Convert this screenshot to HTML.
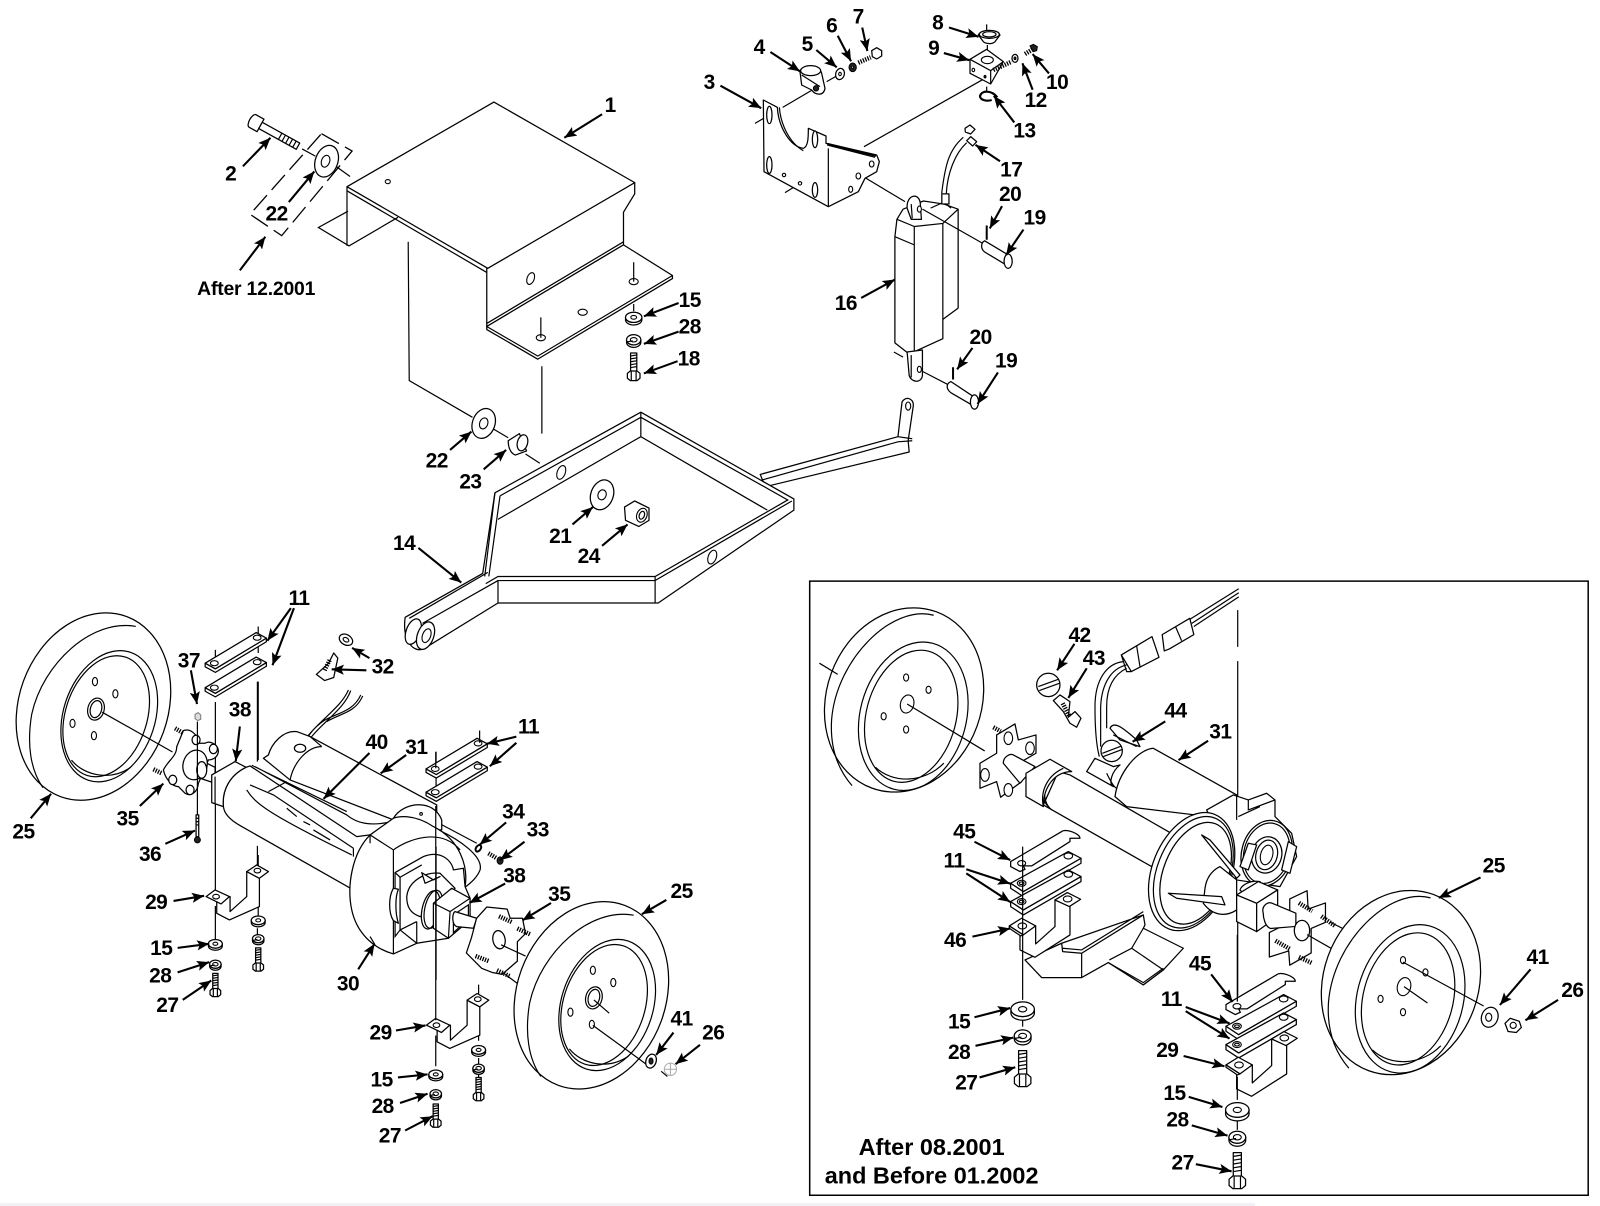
<!DOCTYPE html>
<html><head><meta charset="utf-8"><title>Diagram</title>
<style>
html,body{margin:0;padding:0;background:#fff}
svg{display:block}
svg *{vector-effect:non-scaling-stroke}
.p{fill:#fff;stroke:#000;stroke-width:1.25;stroke-linejoin:round}
.n{fill:none;stroke:#000;stroke-width:1.2}
.a line{stroke:#000;stroke-width:2.1}
.t text{font:bold 20.5px "Liberation Sans",sans-serif;text-anchor:middle;fill:#000;letter-spacing:-.5px}
.h{fill:#fff;stroke:#000;stroke-width:1.1}
.d{fill:#222;stroke:#000;stroke-width:1}
.s{fill:none;stroke:#000;stroke-width:4.5;stroke-dasharray:1.3 1.2}
</style></head><body>
<svg xmlns="http://www.w3.org/2000/svg" width="1600" height="1206" viewBox="0 0 1568 1182">
<defs>
<marker id="m" viewBox="0 0 12 10" refX="12" refY="5" orient="auto" markerUnits="userSpaceOnUse" markerWidth="13" markerHeight="10"><path d="M0 0L12 5L0 10L2.5 5z"/></marker>
<g id="wheel">
<ellipse class="p" cx="91.5" cy="692.5" rx="73" ry="94" transform="rotate(20 91.5 692.5)"/>
<path class="n" d="M133 614C90 606 42 650 31 700C26 730 30 755 42 772"/>
<ellipse class="n" cx="107" cy="702" rx="45" ry="66" transform="rotate(18 107 702)"/>
<ellipse class="n" cx="104" cy="702" rx="40" ry="61" transform="rotate(18 104 702)"/>
<path class="n" d="M70 745C82 760 108 766 128 752"/>
<ellipse class="n" cx="94" cy="695" rx="8" ry="11" transform="rotate(15 94 695)"/><ellipse class="n" cx="94" cy="695" rx="5.500" ry="8.500" transform="rotate(15 94 695)"/>
<ellipse class="h" cx="93" cy="668" rx="2.500" ry="4"/><ellipse class="h" cx="113" cy="680" rx="2.500" ry="4"/><ellipse class="h" cx="71" cy="709" rx="2.500" ry="4"/><ellipse class="h" cx="92" cy="721" rx="2.500" ry="4"/>
</g>
<g id="iw">
<ellipse class="p" cx="886" cy="686" rx="76" ry="92" transform="rotate(20 886 686)"/>
<path class="n" d="M915 603C875 592 820 645 815 705C813 735 822 755 835 770"/>
<ellipse class="n" cx="895" cy="702" rx="52" ry="74" transform="rotate(15 895 702)"/>
<ellipse class="n" cx="893" cy="702" rx="44" ry="66" transform="rotate(15 893 702)"/>
<path class="n" d="M858 752C875 768 905 768 925 748"/>
<ellipse class="h" cx="889" cy="690" rx="6.500" ry="9" transform="rotate(15 889 690)"/>
<ellipse class="h" cx="888" cy="664" rx="2.500" ry="3.500"/><ellipse class="h" cx="910" cy="676" rx="2.500" ry="3.500"/><ellipse class="h" cx="866" cy="702" rx="2.500" ry="3.500"/><ellipse class="h" cx="888" cy="715" rx="2.500" ry="3.500"/>
</g>
<g id="bolt"><path class="p" d="M-3.200 0H3.200V19H-3.200z"/><path class="n" d="M-3.200 3L3.200 2M-3.200 6L3.200 5M-3.200 9L3.200 8M-3.200 12L3.200 11M-3.200 15L3.200 14"/><path class="p" d="M-6.500 21L-3.500 18.500H3.500L6.500 21V26L3.500 28.500H-3.500L-6.500 26Z"/><path class="n" d="M-2.500 19V28M2.500 19V28"/></g>
<g id="wa"><path class="p" d="M-8 0A8 5 0 0 0 8 0V2.500A8 5 0 0 1 -8 2.500Z"/><ellipse class="p" rx="8" ry="5"/><ellipse class="h" rx="2.800" ry="1.800"/></g>
<g id="lo"><path class="p" d="M-7 0A7 5 0 0 0 7 0V2.500A7 5 0 0 1 -7 2.500Z"/><ellipse class="p" rx="7" ry="5"/><ellipse class="h" rx="3.300" ry="2.200"/><path class="n" d="M-6 2L-1 1"/></g>
<g id="pl"><path class="p" d="M0 30V33.500L10 39L60 9V5.400L10 35.500Z"/><path class="p" d="M0 30L50 0L60 5.400L10 35.500Z"/><ellipse class="h" cx="9" cy="30" rx="3.800" ry="2.500"/><ellipse class="h" cx="51" cy="5" rx="3.800" ry="2.500"/></g>
<g id="br" transform="translate(137.200,666.400) scale(.3267)">
<path class="p" d="M230 665V700L268 720L358 680V595L320 575V650L270 695V650Z"/>
<path class="p" d="M198 650L225 630L268 650L243 672Z"/><path class="p" d="M320 575L350 555L385 575L358 595Z"/>
<ellipse class="h" cx="228" cy="650" rx="10" ry="7"/><ellipse class="h" cx="352" cy="572" rx="10" ry="7"/>
</g>
<g id="i45"><path class="p" d="M92 185V200L120 215L135 208L130 198H155L270 125V115H300C300 100 255 85 245 95Z"/><ellipse class="h" cx="125" cy="190" rx="12" ry="8"/></g>
<g id="i11a"><path class="p" d="M92 250V265L130 290L303 190V175L130 275Z"/><path class="p" d="M92 250L265 155L303 175L130 275Z"/><ellipse class="h" cx="125" cy="250" rx="13" ry="9"/><ellipse class="n" cx="125" cy="250" rx="7" ry="4"/><ellipse class="h" cx="265" cy="168" rx="13" ry="9"/></g>
<g id="ib"><path class="p" d="M120 400V450L165 472L270 405V320L225 300V380L167 432V378Z"/><path class="p" d="M88 378L125 355L167 378L130 405Z"/><path class="p" d="M88 378V385L122 408L130 405Z"/><path class="p" d="M225 300L262 278L302 298L268 320Z"/><ellipse class="h" cx="127" cy="378" rx="13" ry="9"/><ellipse class="h" cx="263" cy="297" rx="13" ry="9"/></g>
</defs>

<!-- Part 1 bracket -->
<path class="n" d="M341 207L312 223L342 241L390 213M340 183V241"/>
<path class="p" d="M622 179V190L611 208V240L477 320V263Z"/>
<path class="p" d="M484 100L622 179L478 263L340 183Z"/>
<path class="p" d="M611 240L659 270V273L527 352L477 323V320Z"/>
<path class="n" d="M340 187L477 267M477 317L611 237M477 320L527 349L659 270"/>
<ellipse class="h" cx="380" cy="178" rx="2.500" ry="2"/><ellipse class="h" cx="520" cy="273" rx="3.500" ry="6" transform="rotate(20 520 273)"/><ellipse class="h" cx="621" cy="276" rx="4.500" ry="3"/><ellipse class="h" cx="571" cy="306" rx="4.500" ry="3"/><ellipse class="h" cx="530" cy="331" rx="4.500" ry="3"/>
<path class="n" d="M621 257V276M530 311V331M621 298V305"/>

<!-- bolt 2 & washer 22 -->
<g transform="translate(250,120) rotate(29)"><path class="p" d="M-3 -7H6V7H-3A3 7 0 0 1 -3 -7Z"/><path class="p" d="M6 -3.500H48V3.500H6Z"/><path class="n" d="M28 -3.500V3.500M32 -3.500V3.500M36 -3.500V3.500M40 -3.500V3.500M44 -3.500V3.500"/></g>
<path d="M315 131L345 148L276 231L245 210Z" fill="none" stroke="#000" stroke-width="1.300" stroke-dasharray="20 7"/>
<path class="n" d="M296 146L309 153M325 160L343 173"/>
<ellipse class="p" cx="320" cy="158" rx="11" ry="16" transform="rotate(20 320 158)"/><ellipse class="h" cx="319" cy="158" rx="4" ry="6" transform="rotate(20 319 158)"/>

<!-- stack 15/28/18 -->
<use href="#wa" x="621" y="311"/><use href="#lo" x="621" y="333"/><use href="#bolt" transform="translate(621,346) scale(.95)"/>

<!-- leader lines -->
<path class="n" d="M400 237L401 373L463 409M481 419L498 429M515 445L529 454M531 359V425M533 499V554M555 468L578 477M598 491L612 499"/>
<ellipse class="p" cx="474" cy="415" rx="11" ry="15" transform="rotate(20 474 415)"/><ellipse class="h" cx="474" cy="415" rx="4" ry="5.500" transform="rotate(20 474 415)"/>
<path class="p" d="M498 432L509 425L516 442L505 446C500 444 498 438 498 432Z"/><ellipse class="p" cx="512" cy="434" rx="5" ry="8" transform="rotate(15 512 434)"/>

<!-- Tray 14 -->
<path class="p" d="M745 465L880 428L884 394C887 388 896 390 895 398L890 432L891 443L750 477Z"/>
<path class="n" d="M745 471L880 433L894 432M880 428L894 430"/><ellipse class="h" cx="890" cy="398" rx="2.500" ry="4"/>
<path class="p" d="M628 404L778 489V500L645 591H488L415 636C405 640 394 628 397 605L473 562L485 483Z"/>
<path class="n" d="M628 409L772 490L642 565H488L476 572M490 486L628 409M628 404V428L752 500M628 428L488 509M490 486L479 565M485 483L475 565M776 491L642 569H488V591M642 565V591M478 561L401 606M488 569L414 611"/>
<ellipse class="p" cx="405" cy="619" rx="7" ry="13" transform="rotate(20 405 619)"/><ellipse class="p" cx="417" cy="623" rx="8" ry="14" transform="rotate(20 417 623)"/><ellipse class="h" cx="418" cy="623" rx="4" ry="7" transform="rotate(20 418 623)"/>
<ellipse class="h" cx="550" cy="463" rx="4" ry="7" transform="rotate(20 550 463)"/><ellipse class="h" cx="698" cy="546" rx="4" ry="7" transform="rotate(20 698 546)"/>
<ellipse class="p" cx="590" cy="485" rx="11" ry="15" transform="rotate(20 590 485)"/><ellipse class="h" cx="590" cy="485" rx="4" ry="5" transform="rotate(20 590 485)"/>
<path class="p" d="M612 497L622 491L636 498L636 510L626 516L613 510Z"/><ellipse class="h" cx="629" cy="505" rx="5" ry="7" transform="rotate(20 629 505)"/><ellipse class="n" cx="629" cy="505" rx="2.500" ry="4" transform="rotate(20 629 505)"/>

<!-- Top small parts in zoom coordinates -->
<g transform="translate(725.200,9.800) scale(.3267)">
<path class="n" d="M45 340L88 315M135 548L180 520M128 292L225 235M260 215L295 195M372 410L735 205M365 497L495 575M740 43V60M742 105V125M740 230V245"/>
<path class="p" d="M70 270L112 292C115 350 150 410 190 415C205 410 205 380 205 355L258 378V400L410 435L418 455L410 485L375 505L355 545L265 590L72 485Z"/>
<path class="n" d="M262 405L405 442M265 415V590M118 292C122 345 150 400 190 422"/>
<path d="M262 402L408 437" stroke="#000" stroke-width="2.400" fill="none"/>
<ellipse class="p" cx="88" cy="315" rx="8" ry="26"/><ellipse class="p" cx="88" cy="465" rx="8" ry="25"/><ellipse class="p" cx="225" cy="388" rx="8" ry="25"/><ellipse class="p" cx="225" cy="540" rx="8" ry="22"/>
<ellipse class="h" cx="395" cy="462" rx="7" ry="9"/><ellipse class="h" cx="355" cy="498" rx="7" ry="9"/><ellipse class="h" cx="332" cy="538" rx="6" ry="9"/><ellipse class="h" cx="132" cy="495" rx="5" ry="5"/><ellipse class="h" cx="180" cy="520" rx="5" ry="5"/>
<path class="p" d="M180 185C180 165 240 165 245 190L255 235C250 260 225 255 215 240L185 225Z"/>
<ellipse class="p" cx="212" cy="182" rx="30" ry="15"/><path class="n" d="M185 195L240 230" /><ellipse class="d" cx="228" cy="235" rx="8" ry="8"/>
<ellipse class="p" cx="300" cy="192" rx="13" ry="17" transform="rotate(15 300 192)"/><ellipse class="h" cx="300" cy="192" rx="4" ry="5"/>
<ellipse class="d" cx="338" cy="172" rx="11" ry="13"/><ellipse class="h" cx="338" cy="172" rx="3" ry="4"/>
<path class="s" d="M355 158L392 142"/><path class="p" d="M395 122L410 113L425 122L425 138L410 147L397 140Z"/>
<path class="p" d="M715 75C720 60 770 60 780 75L765 95C755 105 735 100 730 95Z"/><ellipse class="p" cx="748" cy="73" rx="30" ry="12"/><ellipse class="n" cx="748" cy="73" rx="20" ry="8"/>
<path class="p" d="M690 148V190L752 222L790 155L740 118Z"/><path class="n" d="M690 148L752 182L790 155M752 182V222"/><ellipse class="h" cx="742" cy="150" rx="18" ry="11"/><ellipse class="h" cx="700" cy="180" rx="4" ry="5"/><ellipse class="d" cx="735" cy="200" rx="3" ry="4"/>
<path class="s" d="M760 180L815 155"/><ellipse class="p" cx="825" cy="145" rx="9" ry="12"/><ellipse class="d" cx="825" cy="145" rx="3" ry="4"/>
<path class="s" d="M855 132L878 118"/><path class="d" d="M870 108L880 103L892 110L890 122L880 125Z"/>
<path d="M772 262C755 240 725 240 720 258C720 270 740 275 755 270" fill="none" stroke="#000" stroke-width="2.200"/>
<path d="M605 550C615 470 625 420 670 382M619 550C622 490 645 430 680 398" fill="none" stroke="#000" stroke-width="1.200"/>
<path class="p" d="M675 355L690 345L705 358L692 372L676 366Z"/><path class="p" d="M680 392L692 380L710 395L698 408Z"/>
</g>

<!-- Actuator 16 -->
<path class="p" d="M879 215L885 205L905 197L925 200L939 205V302L924 313V332L891 347L877 336V232Z"/>
<path class="n" d="M896 222L924 219L939 205M879 215L896 222V347M924 219V313M877 232L896 240M912 204L925 198L932 204"/>
<path class="p" d="M923 190H930V200H923Z"/>
<path class="p" d="M889 204C888 190 902 188 902 201L903 215H893Z"/><ellipse class="h" cx="901" cy="205" rx="2" ry="3"/><path class="n" d="M893 200L894 214"/>
<path class="p" d="M889 345L904 343V368C903 376 893 375 891 368Z"/><ellipse class="h" cx="901" cy="362" rx="2" ry="3"/><path class="n" d="M893 348L893 370M876 345L885 350"/>
<path class="n" d="M904 205L964 239M904 364L933 379"/>
<path class="p" d="M965 236L990 251V262L965 247C961 244 961 238 965 236Z"/><ellipse class="p" cx="988" cy="256" rx="4" ry="7"/>
<path class="p" d="M932 374L956 390V399L932 385C927 381 927 376 932 374Z"/><ellipse class="p" cx="955" cy="394" rx="4" ry="7"/>
<path d="M967 221V235M934 360V372" stroke="#000" stroke-width="2" fill="none"/>

<!-- Left assembly -->
<path class="n" d="M253 614V640M253 668V745M211 637V650M211 688V880M211 888V925M253 838V850M253 872V905"/>
<use href="#pl" x="201" y="620"/><use href="#pl" x="201" y="644"/>
<use href="#wheel"/>
<path class="n" d="M100 698L169 737"/>
<g transform="translate(137.200,666.400) scale(.3267)">
<path class="n" d="M625 30C600 90 520 130 478 205M632 32C610 95 530 135 490 205M662 45C640 95 590 100 555 120C525 140 495 170 492 210M668 48C645 100 600 100 560 125"/>
<path class="n" d="M840 400L1010 490M352 5V245M352 498V555M352 620V680M352 745V775"/>
<path class="p" d="M370 235L385 225C395 190 430 150 470 155L510 170L890 375V470L450 300Z"/>
<path class="n" d="M545 200C500 200 460 250 450 300M510 170L545 200"/>
<ellipse class="p" cx="480" cy="205" rx="17" ry="12"/>
<path class="p" d="M895 450C960 480 1030 530 1020 570C1010 595 990 610 975 622L880 640Z"/>
<path class="p" d="M760 415C790 365 880 355 905 420V450L800 450Z"/><ellipse class="h" cx="843" cy="402" rx="4" ry="4"/>
<path class="p" d="M318 262L330 258L650 470L690 465L640 630L300 437C270 420 252 400 250 380C245 330 270 285 318 262Z"/>
<path class="n" d="M345 260L620 405C650 430 690 440 755 425M335 256L620 395M385 335L440 305M330 315L400 345L640 505M320 330C345 370 380 400 635 525M440 385L470 410M490 425L510 435M520 450L570 480M640 505V530"/>
<path class="p" d="M690 465C635 520 620 620 635 690C650 760 700 805 760 822L830 790L900 760L975 620C985 560 960 480 880 440C820 400 770 410 760 415Z"/>
<path class="n" d="M690 465L760 510V822M760 510C800 480 900 440 960 510M690 770L705 795M690 465V490"/>
<path class="p" d="M765 578L850 530C900 510 935 540 940 570L970 565L975 620L990 655L925 775L830 790L780 750V592Z"/>
<path class="n" d="M780 592L845 555M765 578V770L780 750M780 750L830 725M830 725V790"/>
<path class="p" d="M760 625C745 650 745 700 760 722L775 730C765 700 765 650 775 628Z"/>
<path class="p" d="M800 650C805 600 860 575 900 580L945 625L880 700L840 710C810 700 800 680 800 650Z"/>
<path class="p" d="M845 578L880 600L900 590L855 610Z"/>
<ellipse class="p" cx="872" cy="690" rx="26" ry="58" transform="rotate(12 872 690)"/><ellipse class="n" cx="880" cy="688" rx="26" ry="58" transform="rotate(12 880 688)"/>
<path class="p" d="M880 670L935 625L990 655V720L925 775L880 745Z"/><path class="n" d="M880 670L930 695L990 655M930 695L925 775M940 705L985 675V718L940 758Z"/>
<path class="p" d="M945 695C935 700 935 735 950 740L1000 745L1010 715Z"/>
<!-- hub left -->
<path class="s" d="M105 145L130 160M40 268L65 280"/>
<path class="p" d="M130 152C150 145 170 160 178 190L195 190C210 180 235 195 235 215C232 235 215 240 205 240L175 310C172 340 150 350 135 340C125 330 120 325 115 320C95 320 75 295 70 270C85 240 110 230 110 200Z"/>
<path class="p" d="M180 240L225 262V310L180 295Z"/>
<ellipse class="p" cx="165" cy="255" rx="36" ry="45" transform="rotate(15 165 255)"/><ellipse class="p" cx="185" cy="270" rx="15" ry="25"/>
<ellipse class="p" cx="168" cy="180" rx="12" ry="14"/><ellipse class="p" cx="220" cy="207" rx="12" ry="14"/><ellipse class="p" cx="98" cy="300" rx="12" ry="14"/><ellipse class="p" cx="150" cy="330" rx="12" ry="14"/>
<path class="p" d="M215 285L285 245L318 262C270 285 245 330 250 380L215 368Z"/><path class="n" d="M225 290V372"/>
<path class="n" d="M172 125V405"/><path fill="#ddd" stroke="#777" d="M165 103L174 98L182 105V118L173 122L165 116Z"/>
<path class="p" d="M168 405H176V470H168Z"/><path class="n" d="M168 415H176M168 425H176M168 435H176"/><ellipse class="d" cx="172" cy="480" rx="9" ry="9"/>
<ellipse cx="1015" cy="505" rx="7" ry="11" fill="#fff" stroke="#000" stroke-width="2" transform="rotate(35 1015 505)"/>
<path class="s" d="M1045 520L1070 535"/><ellipse class="d" cx="1080" cy="542" rx="9" ry="11"/>
<path class="n" d="M888 215V360M888 500V900"/>
</g>
<use href="#pl" x="417.500" y="723.600"/><use href="#pl" x="417.500" y="746.400"/>
<path class="n" d="M427 737V753M470 716V728"/>
<!-- hub right -->
<path class="p" d="M477 889L497 891L500 900L512 900L515 915L507 923V942L492 955L482 953L472 949L457 934L462 919L467 900Z"/>
<path class="s" d="M489 898L502 904M507 910L520 916M466 937L479 942M487 951L500 957"/>
<ellipse class="p" cx="489" cy="921" rx="6" ry="9" transform="rotate(-10 489 921)"/>
<path class="n" d="M491 926L515 937M495 955L510 966M469 965V1020M469 1037V1060"/>
<use href="#wheel" x="488" y="283"/>
<path class="n" d="M582 980L597 993M581 1005L636 1045M648 1050L654 1055"/>
<ellipse class="p" cx="638" cy="1040" rx="5" ry="7" transform="rotate(20 638 1040)"/><ellipse class="d" cx="638" cy="1040" rx="2" ry="3"/>
<g fill="#fff" stroke="#aaa" stroke-width="1"><circle cx="657" cy="1048" r="6"/><path d="M651 1048H663M657 1042V1054"/></g>
<use href="#br"/><use href="#br" x="216" y="126"/>
<path class="n" d="M427 790V1000M427 1015V1045"/>
<!-- left stacks -->
<use href="#wa" transform="translate(211,925) scale(.85)"/><use href="#lo" transform="translate(211,945) scale(.8)"/><use href="#bolt" transform="translate(211,954) scale(.8)"/>
<use href="#wa" transform="translate(253,902) scale(.85)"/><use href="#lo" transform="translate(253,920) scale(.8)"/><use href="#bolt" transform="translate(253,929) scale(.8)"/>
<use href="#wa" transform="translate(427,1053) scale(.85)"/><use href="#lo" transform="translate(427,1072) scale(.8)"/><use href="#bolt" transform="translate(427,1082) scale(.8)"/>
<use href="#wa" transform="translate(469,1029) scale(.85)"/><use href="#lo" transform="translate(469,1047) scale(.8)"/><use href="#bolt" transform="translate(469,1056) scale(.8)"/>
<!-- 32 parts -->
<ellipse class="p" cx="339" cy="627" rx="7" ry="5" transform="rotate(30 339 627)"/><ellipse class="h" cx="339" cy="627" rx="3" ry="2" transform="rotate(30 339 627)"/>
<path class="p" d="M310 661L322 650L327 640L331 645L327 664L318 667Z"/><path class="s" d="M323 647L318 657"/>

<!-- INSET -->
<rect x="793.500" y="569.500" width="763" height="602" fill="none" stroke="#000" stroke-width="1.500"/>
<use href="#iw"/>
<path class="n" d="M803 650L821 661M889 690L965 736"/>
<!-- harness -->
<path class="n" d="M1214 577L1166 607M1214 581L1168 611M1214 585L1170 614M1213 598V634M1213 648V805M1213 904V976"/>
<path class="p" d="M1139 622L1166 606L1170 622L1146 636L1141 638Z"/><path class="n" d="M1152 614L1158 628"/>
<g transform="translate(960.400,627.200) scale(.3267)">
<path class="n" d="M430 65C380 70 345 120 345 200C345 270 350 320 358 350M440 75C395 85 365 130 362 200V320M440 85C410 100 380 130 380 200V265"/>
<path class="p" d="M424 45L516 -10L537 52L454 95Z"/><path class="n" d="M470 18L480 80M424 45L440 95L454 95"/>
<circle class="p" cx="205" cy="135" r="35"/><path class="n" d="M175 140L235 118M178 152L238 130"/>
<path class="p" d="M220 182L240 165L270 185L265 232L285 215L303 235L290 262L270 250L250 215Z"/><path class="s" d="M248 190L268 228"/>
<!-- motor -->
<path class="p" d="M390 265C400 245 420 255 470 300L480 320L420 300Z"/><path class="n" d="M400 285L470 320"/>
<path class="p" d="M520 325L770 465V540L440 500L405 470C415 400 470 330 520 325Z"/>
<path class="p" d="M320 395L345 355L400 380L420 375C395 395 385 430 400 440Z"/><path class="n" d="M380 400C390 420 400 440 410 445"/>
<circle class="p" cx="395" cy="333" r="32"/><path class="n" d="M367 340L425 318M370 350L428 328"/>
<!-- left plate -->
<path class="s" d="M40 262L62 274"/>
<path class="p" d="M0 370L50 340V285L105 252L115 300L168 285V340L125 365V425L62 472L50 425L0 445Z"/>
<ellipse class="h" cx="85" cy="295" rx="13" ry="19"/><ellipse class="h" cx="150" cy="325" rx="13" ry="19"/><ellipse class="h" cx="15" cy="405" rx="13" ry="19"/><ellipse class="h" cx="85" cy="450" rx="13" ry="19"/>
<path class="p" d="M70 370C70 350 90 340 100 345L165 380L120 430Z"/>
<!-- tube -->
<path class="p" d="M235 395L270 405L570 578L515 680L190 495Z"/><path class="n" d="M215 510C180 480 190 420 235 395M205 500C175 470 185 410 225 385"/>
<path class="p" d="M138 400L210 358L275 395C225 395 190 440 190 500L138 470Z"/><path class="n" d="M190 500C180 450 205 405 250 385"/>
<!-- rear housing -->
<path class="p" d="M680 510L760 465L805 480L860 460L885 480V530L935 580L950 650L900 740L770 720L720 600Z"/>
<path class="n" d="M805 480V510L885 480M770 465V540M775 530L840 500"/>
<ellipse class="p" cx="860" cy="640" rx="75" ry="100" transform="rotate(15 860 640)"/>
<ellipse class="n" cx="860" cy="640" rx="68" ry="92" transform="rotate(15 860 640)"/>
<ellipse class="p" cx="860" cy="645" rx="45" ry="55" transform="rotate(15 860 645)"/><ellipse class="n" cx="860" cy="645" rx="32" ry="45" transform="rotate(15 860 645)"/><ellipse class="h" cx="860" cy="645" rx="18" ry="30" transform="rotate(15 860 645)"/>
<path class="p" d="M805 610L830 615L805 690L780 680ZM925 605L950 620L930 700L905 690Z"/>
<!-- disc -->
<ellipse class="p" cx="635" cy="695" rx="118" ry="185" transform="rotate(22 635 695)"/>
<ellipse class="n" cx="640" cy="697" rx="108" ry="175" transform="rotate(22 640 697)"/>
<ellipse class="p" cx="647" cy="700" rx="96" ry="160" transform="rotate(22 647 700)"/>
<path class="p" d="M665 585L770 715L780 705L690 600Z"/>
<path class="p" d="M675 745C680 710 700 690 720 680L770 720L770 810C740 830 700 830 670 790Z"/>
<path class="p" d="M565 760L725 770L735 795L590 775Z"/>
<path class="p" d="M780 750C785 735 810 720 840 725L860 760H790Z"/>
<path class="p" d="M770 765L835 725L893 750L830 790Z"/><path class="p" d="M770 765L830 790V875L770 845Z"/><path class="p" d="M830 790L893 750V830L830 875Z"/>
</g>
<path class="p" d="M1264 881L1281 873L1282 891L1299 885V904L1285 910V934L1264 946L1263 932L1244 938V914L1264 904Z"/>
<path class="p" d="M1238 895C1236 888 1242 884 1246 885L1270 895V908L1245 910C1240 908 1238 900 1238 895Z"/>
<path class="s" d="M1273 885L1286 893M1295 898L1309 908M1250 922L1264 930M1273 938L1286 944"/>
<ellipse class="p" cx="1276" cy="912" rx="7.500" ry="10"/>
<path class="n" d="M1281 916L1309 932M1304 904L1324 914"/>
<use href="#iw" x="487" y="277"/>
<path class="n" d="M1376 967L1399 983M1375 943L1454 986"/>
<ellipse class="p" cx="1460" cy="997" rx="8" ry="10" transform="rotate(20 1460 997)"/><ellipse class="h" cx="1459" cy="997" rx="3" ry="4"/>
<path class="p" d="M1475 1003L1480 998L1489 1001L1491 1007L1486 1012L1478 1011Z"/><circle class="h" cx="1483" cy="1005" r="3"/>
<!-- inset lower-left stack and right stack -->
<g transform="translate(960.400,784) scale(.3267)">
<path class="p" d="M135 480L185 533H305L385 488L490 555L550 510L610 445L490 385L495 375L490 345L305 460L248 455L245 430Z"/>
<path class="n" d="M305 460V533M245 430L490 345M248 445L305 450L490 335M388 480L455 445L490 385M455 445L550 510L490 555M388 490L490 548L550 505"/>
<use href="#i45"/><use href="#i11a"/><use href="#i11a" y="55"/>
<use href="#ib"/>
<path class="n" d="M128 140V600M128 650V680"/>
<g transform="translate(128,628) scale(4.400)"><use href="#wa"/></g>
<g transform="translate(128,708) scale(3.600)"><use href="#lo"/></g>
<g transform="translate(128,752) scale(3.800)"><use href="#bolt"/></g>
<g transform="translate(646,429)"><use href="#i45"/><use href="#i11a"/><use href="#i11a" y="55"/></g>
<use href="#ib" x="650" y="417"/>
<path class="n" d="M772 405V605M772 830V900M772 960V990"/>
<g transform="translate(772,930) scale(4.400)"><use href="#wa"/></g>
<g transform="translate(772,1012) scale(3.600)"><use href="#lo"/></g>
<g transform="translate(772,1058) scale(3.800)"><use href="#bolt"/></g>
</g>
<rect x="0" y="1179" width="1230" height="3" fill="#f2f2f6"/>

<!-- Arrows -->
<g class="a" style="marker-end:url(#m)">
<line x1="590" y1="112" x2="553" y2="135"/><line x1="238" y1="163" x2="265" y2="135"/><line x1="283" y1="198" x2="308" y2="168"/><line x1="235" y1="265" x2="260" y2="232"/>
<line x1="706" y1="84" x2="746" y2="106"/><line x1="755" y1="51" x2="784" y2="70"/><line x1="800" y1="49" x2="820" y2="66"/><line x1="821" y1="35" x2="834" y2="60"/><line x1="845" y1="27" x2="850" y2="50"/><line x1="930" y1="27" x2="959" y2="36"/><line x1="925" y1="52" x2="950" y2="59"/><line x1="1028" y1="72" x2="1012" y2="53"/><line x1="1012" y1="88" x2="1002" y2="62"/><line x1="994" y1="120" x2="974" y2="94"/><line x1="980" y1="158" x2="956" y2="142"/><line x1="982" y1="202" x2="970" y2="224"/><line x1="1003" y1="225" x2="986" y2="250"/><line x1="844" y1="292" x2="877" y2="274"/><line x1="953" y1="341" x2="938" y2="362"/><line x1="978" y1="365" x2="958" y2="396"/>
<line x1="665" y1="297" x2="631" y2="310"/><line x1="665" y1="325" x2="631" y2="337"/><line x1="664" y1="354" x2="631" y2="366"/><line x1="441" y1="441" x2="462" y2="423"/><line x1="474" y1="460" x2="496" y2="441"/><line x1="561" y1="514" x2="581" y2="497"/><line x1="590" y1="535" x2="615" y2="514"/><line x1="410" y1="537" x2="452" y2="571"/>
<line x1="285" y1="596" x2="262" y2="628"/><line x1="288" y1="596" x2="267" y2="652"/><line x1="362" y1="645" x2="345" y2="635"/><line x1="359" y1="657" x2="325" y2="656"/><line x1="187" y1="657" x2="193" y2="690"/><line x1="235" y1="712" x2="231" y2="746"/><line x1="137" y1="790" x2="160" y2="768"/><line x1="162" y1="827" x2="191" y2="814"/><line x1="30" y1="802" x2="50" y2="778"/><line x1="362" y1="738" x2="317" y2="783"/><line x1="398" y1="740" x2="373" y2="758"/><line x1="506" y1="722" x2="477" y2="729"/><line x1="506" y1="728" x2="480" y2="751"/><line x1="496" y1="806" x2="470" y2="828"/><line x1="514" y1="825" x2="490" y2="843"/><line x1="495" y1="866" x2="460" y2="885"/><line x1="540" y1="885" x2="512" y2="902"/><line x1="653" y1="882" x2="629" y2="896"/><line x1="170" y1="883" x2="200" y2="878"/><line x1="174" y1="929" x2="205" y2="925"/><line x1="174" y1="953" x2="205" y2="943"/><line x1="179" y1="980" x2="207" y2="961"/><line x1="351" y1="950" x2="367" y2="925"/><line x1="388" y1="1010" x2="417" y2="1005"/><line x1="660" y1="1012" x2="643" y2="1034"/><line x1="686" y1="1024" x2="662" y2="1043"/><line x1="390" y1="1056" x2="419" y2="1053"/><line x1="392" y1="1081" x2="419" y2="1072"/><line x1="397" y1="1108" x2="424" y2="1094"/>
<line x1="1053" y1="631" x2="1036" y2="657"/><line x1="1065" y1="655" x2="1047" y2="684"/><line x1="1142" y1="707" x2="1110" y2="727"/><line x1="1184" y1="726" x2="1155" y2="745"/><line x1="955" y1="825" x2="990" y2="843"/><line x1="947" y1="852" x2="990" y2="866"/><line x1="947" y1="856" x2="990" y2="884"/><line x1="953" y1="918" x2="990" y2="910"/><line x1="1451" y1="860" x2="1410" y2="880"/><line x1="1187" y1="955" x2="1208" y2="982"/><line x1="1162" y1="987" x2="1205" y2="1003"/><line x1="1162" y1="991" x2="1205" y2="1018"/><line x1="1160" y1="1035" x2="1200" y2="1045"/><line x1="955" y1="997" x2="990" y2="988"/><line x1="956" y1="1025" x2="993" y2="1017"/><line x1="960" y1="1056" x2="995" y2="1046"/><line x1="1165" y1="1075" x2="1198" y2="1085"/><line x1="1168" y1="1103" x2="1203" y2="1113"/><line x1="1172" y1="1141" x2="1207" y2="1148"/><line x1="1500" y1="950" x2="1470" y2="985"/><line x1="1527" y1="980" x2="1495" y2="1000"/>
</g>

<!-- Labels -->
<g class="t">
<text x="598" y="110">1</text><text x="226" y="177">2</text><text x="271" y="216">22</text><text x="695" y="87">3</text><text x="744" y="53">4</text><text x="791" y="50">5</text><text x="815" y="32">6</text><text x="841" y="23">7</text><text x="919" y="29">8</text><text x="915" y="54">9</text><text x="1036" y="87">10</text><text x="1015" y="105">12</text><text x="1004" y="135">13</text><text x="991" y="173">17</text><text x="990" y="197">20</text><text x="1014" y="220">19</text><text x="829" y="304">16</text><text x="961" y="337">20</text><text x="986" y="360">19</text><text x="676" y="301">15</text><text x="676" y="327">28</text><text x="675" y="358">18</text><text x="428" y="458">22</text><text x="461" y="479">23</text><text x="549" y="532">21</text><text x="577" y="552">24</text><text x="396" y="539">14</text><text x="293" y="593">11</text><text x="375" y="660">32</text><text x="185" y="654">37</text><text x="235" y="702">38</text><text x="125" y="809">35</text><text x="147" y="844">36</text><text x="23" y="822">25</text><text x="369" y="734">40</text><text x="408" y="739">31</text><text x="518" y="719">11</text><text x="503" y="802">34</text><text x="527" y="820">33</text><text x="504" y="865">38</text><text x="548" y="883">35</text><text x="668" y="880">25</text><text x="153" y="891">29</text><text x="158" y="936">15</text><text x="157" y="963">28</text><text x="164" y="992">27</text><text x="341" y="971">30</text><text x="373" y="1019">29</text><text x="668" y="1005">41</text><text x="699" y="1019">26</text><text x="374" y="1065">15</text><text x="375" y="1091">28</text><text x="382" y="1120">27</text>
<text x="1058" y="629">42</text><text x="1072" y="652">43</text><text x="1152" y="703">44</text><text x="1196" y="724">31</text><text x="945" y="822">45</text><text x="935" y="850">11</text><text x="936" y="928">46</text><text x="1464" y="855">25</text><text x="1176" y="951">45</text><text x="1148" y="986">11</text><text x="1144" y="1036">29</text><text x="940" y="1008">15</text><text x="940" y="1038">28</text><text x="947" y="1068">27</text><text x="1151" y="1078">15</text><text x="1154" y="1104">28</text><text x="1159" y="1146">27</text><text x="1507" y="945">41</text><text x="1541" y="977">26</text>
<text x="251" y="289" style="font-size:19px;letter-spacing:-.2px">After 12.2001</text>
<text x="913" y="1132" style="font:bold 23px 'Liberation Sans',sans-serif;letter-spacing:0">After 08.2001</text>
<text x="913" y="1160" style="font:bold 23px 'Liberation Sans',sans-serif;letter-spacing:0">and Before 01.2002</text>
</g>
</svg>
</body></html>
